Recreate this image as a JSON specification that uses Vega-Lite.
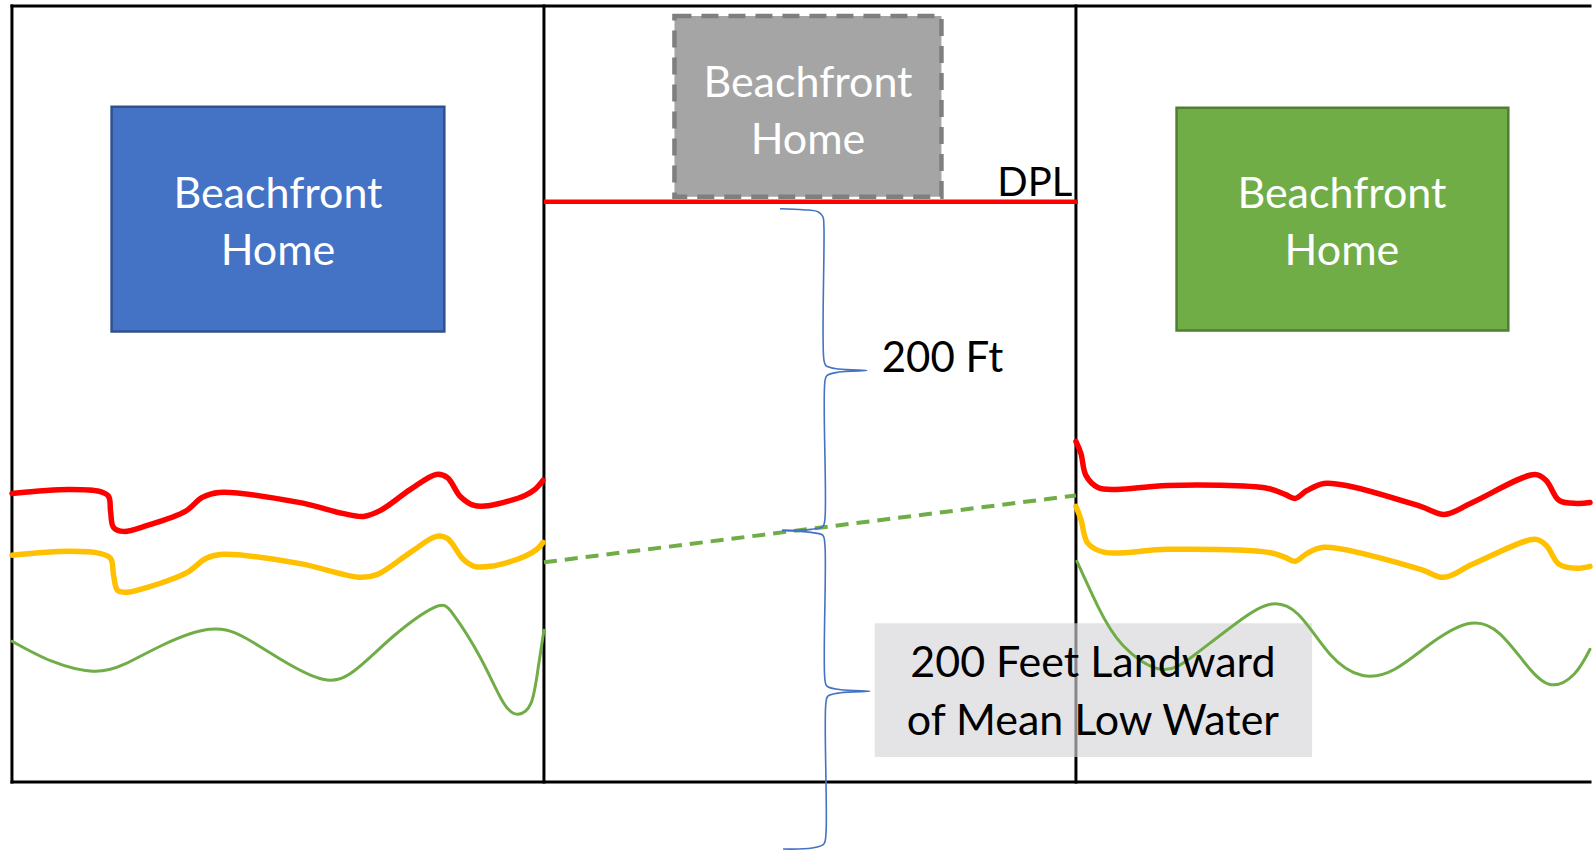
{
  "$schema": "https://vega.github.io/schema/vega-lite/v6.json",
  "width": 1596,
  "height": 853,
  "autosize": {"type": "fit", "contains": "padding"},
  "padding": 0,
  "background": "white",
  "config": {"view": {"stroke": null}},
  "datasets": {
    "frame": [
      {"x": 12, "y": 6, "x2": 1596, "y2": 6},
      {"x": 12, "y": 783, "x2": 1596, "y2": 783},
      {"x": 12, "y": 6, "x2": 12, "y2": 783},
      {"x": 546, "y": 6, "x2": 546, "y2": 783},
      {"x": 1080, "y": 6, "x2": 1080, "y2": 783}
    ],
    "homes": [
      {"home": "Left home", "x": 112, "x2": 446, "y": 107, "y2": 332},
      {"home": "Right home", "x": 1181, "x2": 1514, "y": 108, "y2": 331}
    ],
    "removed": [
      {"home": "Removed home", "x": 677, "x2": 945, "y": 16, "y2": 197}
    ],
    "labelbox": [
      {"x": 878, "x2": 1317, "y": 624, "y2": 758}
    ],
    "dpl": [
      {"x": 546, "y": 202, "x2": 1082, "y2": 202}
    ],
    "mlw": [
      {"x": 546, "y": 563, "x2": 1080, "y2": 496}
    ],
    "shore": [
      {"line": "upper", "side": "left", "x": 12, "y": 494},
      {"line": "upper", "side": "left", "x": 69, "y": 490},
      {"line": "upper", "side": "left", "x": 100, "y": 492},
      {"line": "upper", "side": "left", "x": 109, "y": 497},
      {"line": "upper", "side": "left", "x": 111, "y": 512},
      {"line": "upper", "side": "left", "x": 114, "y": 528},
      {"line": "upper", "side": "left", "x": 124, "y": 532},
      {"line": "upper", "side": "left", "x": 148, "y": 526},
      {"line": "upper", "side": "left", "x": 186, "y": 512},
      {"line": "upper", "side": "left", "x": 203, "y": 498},
      {"line": "upper", "side": "left", "x": 220, "y": 493},
      {"line": "upper", "side": "left", "x": 300, "y": 503},
      {"line": "upper", "side": "left", "x": 344, "y": 514},
      {"line": "upper", "side": "left", "x": 365, "y": 517},
      {"line": "upper", "side": "left", "x": 382, "y": 511},
      {"line": "upper", "side": "left", "x": 412, "y": 490},
      {"line": "upper", "side": "left", "x": 438, "y": 475},
      {"line": "upper", "side": "left", "x": 449, "y": 478},
      {"line": "upper", "side": "left", "x": 462, "y": 497},
      {"line": "upper", "side": "left", "x": 476, "y": 506},
      {"line": "upper", "side": "left", "x": 492, "y": 506},
      {"line": "upper", "side": "left", "x": 527, "y": 496},
      {"line": "upper", "side": "left", "x": 537, "y": 490},
      {"line": "upper", "side": "left", "x": 545, "y": 481},
      {"line": "middle", "side": "left", "x": 12, "y": 556},
      {"line": "middle", "side": "left", "x": 69, "y": 552},
      {"line": "middle", "side": "left", "x": 100, "y": 554},
      {"line": "middle", "side": "left", "x": 111, "y": 559},
      {"line": "middle", "side": "left", "x": 114, "y": 576},
      {"line": "middle", "side": "left", "x": 118, "y": 591},
      {"line": "middle", "side": "left", "x": 127, "y": 593},
      {"line": "middle", "side": "left", "x": 148, "y": 588},
      {"line": "middle", "side": "left", "x": 188, "y": 573},
      {"line": "middle", "side": "left", "x": 207, "y": 559},
      {"line": "middle", "side": "left", "x": 224, "y": 555},
      {"line": "middle", "side": "left", "x": 300, "y": 564},
      {"line": "middle", "side": "left", "x": 362, "y": 578},
      {"line": "middle", "side": "left", "x": 379, "y": 575},
      {"line": "middle", "side": "left", "x": 412, "y": 553},
      {"line": "middle", "side": "left", "x": 438, "y": 537},
      {"line": "middle", "side": "left", "x": 449, "y": 539},
      {"line": "middle", "side": "left", "x": 465, "y": 560},
      {"line": "middle", "side": "left", "x": 476, "y": 567},
      {"line": "middle", "side": "left", "x": 492, "y": 567},
      {"line": "middle", "side": "left", "x": 527, "y": 557},
      {"line": "middle", "side": "left", "x": 540, "y": 549},
      {"line": "middle", "side": "left", "x": 545, "y": 543},
      {"line": "lower", "side": "left", "x": 12, "y": 642},
      {"line": "lower", "side": "left", "x": 52, "y": 662},
      {"line": "lower", "side": "left", "x": 93, "y": 672},
      {"line": "lower", "side": "left", "x": 125, "y": 665},
      {"line": "lower", "side": "left", "x": 165, "y": 645},
      {"line": "lower", "side": "left", "x": 210, "y": 630},
      {"line": "lower", "side": "left", "x": 245, "y": 638},
      {"line": "lower", "side": "left", "x": 285, "y": 662},
      {"line": "lower", "side": "left", "x": 324, "y": 680},
      {"line": "lower", "side": "left", "x": 355, "y": 672},
      {"line": "lower", "side": "left", "x": 396, "y": 636},
      {"line": "lower", "side": "left", "x": 436, "y": 608},
      {"line": "lower", "side": "left", "x": 455, "y": 615},
      {"line": "lower", "side": "left", "x": 482, "y": 658},
      {"line": "lower", "side": "left", "x": 505, "y": 703},
      {"line": "lower", "side": "left", "x": 520, "y": 715},
      {"line": "lower", "side": "left", "x": 533, "y": 704},
      {"line": "lower", "side": "left", "x": 540, "y": 670},
      {"line": "lower", "side": "left", "x": 546, "y": 631},
      {"line": "upper", "side": "right", "x": 1080, "y": 442},
      {"line": "upper", "side": "right", "x": 1085, "y": 454},
      {"line": "upper", "side": "right", "x": 1090, "y": 476},
      {"line": "upper", "side": "right", "x": 1102, "y": 488},
      {"line": "upper", "side": "right", "x": 1120, "y": 490},
      {"line": "upper", "side": "right", "x": 1172, "y": 486},
      {"line": "upper", "side": "right", "x": 1273, "y": 489},
      {"line": "upper", "side": "right", "x": 1290, "y": 495},
      {"line": "upper", "side": "right", "x": 1300, "y": 499},
      {"line": "upper", "side": "right", "x": 1312, "y": 491},
      {"line": "upper", "side": "right", "x": 1329, "y": 484},
      {"line": "upper", "side": "right", "x": 1356, "y": 487},
      {"line": "upper", "side": "right", "x": 1426, "y": 507},
      {"line": "upper", "side": "right", "x": 1450, "y": 515},
      {"line": "upper", "side": "right", "x": 1478, "y": 503},
      {"line": "upper", "side": "right", "x": 1541, "y": 475},
      {"line": "upper", "side": "right", "x": 1552, "y": 481},
      {"line": "upper", "side": "right", "x": 1565, "y": 501},
      {"line": "upper", "side": "right", "x": 1583, "y": 504},
      {"line": "upper", "side": "right", "x": 1596, "y": 503},
      {"line": "middle", "side": "right", "x": 1080, "y": 507},
      {"line": "middle", "side": "right", "x": 1085, "y": 520},
      {"line": "middle", "side": "right", "x": 1092, "y": 544},
      {"line": "middle", "side": "right", "x": 1109, "y": 553},
      {"line": "middle", "side": "right", "x": 1172, "y": 550},
      {"line": "middle", "side": "right", "x": 1273, "y": 553},
      {"line": "middle", "side": "right", "x": 1290, "y": 558},
      {"line": "middle", "side": "right", "x": 1300, "y": 562},
      {"line": "middle", "side": "right", "x": 1312, "y": 554},
      {"line": "middle", "side": "right", "x": 1329, "y": 548},
      {"line": "middle", "side": "right", "x": 1426, "y": 570},
      {"line": "middle", "side": "right", "x": 1449, "y": 578},
      {"line": "middle", "side": "right", "x": 1478, "y": 565},
      {"line": "middle", "side": "right", "x": 1541, "y": 540},
      {"line": "middle", "side": "right", "x": 1552, "y": 546},
      {"line": "middle", "side": "right", "x": 1565, "y": 565},
      {"line": "middle", "side": "right", "x": 1583, "y": 569},
      {"line": "middle", "side": "right", "x": 1596, "y": 567},
      {"line": "lower", "side": "right", "x": 1081, "y": 562},
      {"line": "lower", "side": "right", "x": 1102, "y": 607},
      {"line": "lower", "side": "right", "x": 1127, "y": 646},
      {"line": "lower", "side": "right", "x": 1165, "y": 670},
      {"line": "lower", "side": "right", "x": 1200, "y": 655},
      {"line": "lower", "side": "right", "x": 1245, "y": 621},
      {"line": "lower", "side": "right", "x": 1275, "y": 605},
      {"line": "lower", "side": "right", "x": 1303, "y": 615},
      {"line": "lower", "side": "right", "x": 1335, "y": 655},
      {"line": "lower", "side": "right", "x": 1367, "y": 676},
      {"line": "lower", "side": "right", "x": 1400, "y": 670},
      {"line": "lower", "side": "right", "x": 1438, "y": 643},
      {"line": "lower", "side": "right", "x": 1476, "y": 624},
      {"line": "lower", "side": "right", "x": 1505, "y": 634},
      {"line": "lower", "side": "right", "x": 1530, "y": 663},
      {"line": "lower", "side": "right", "x": 1555, "y": 685},
      {"line": "lower", "side": "right", "x": 1580, "y": 675},
      {"line": "lower", "side": "right", "x": 1596, "y": 650}
    ],
    "braces": [
      {"brace": "200 Ft", "i": 1, "x": 783, "y": 209},
      {"brace": "200 Ft", "i": 2, "x": 806, "y": 210},
      {"brace": "200 Ft", "i": 3, "x": 821, "y": 212},
      {"brace": "200 Ft", "i": 4, "x": 826, "y": 217},
      {"brace": "200 Ft", "i": 5, "x": 827, "y": 226},
      {"brace": "200 Ft", "i": 6, "x": 827, "y": 360},
      {"brace": "200 Ft", "i": 7, "x": 829, "y": 366},
      {"brace": "200 Ft", "i": 8, "x": 842, "y": 369.5},
      {"brace": "200 Ft", "i": 9, "x": 870, "y": 371},
      {"brace": "200 Ft", "i": 10, "x": 842, "y": 372.5},
      {"brace": "200 Ft", "i": 11, "x": 830, "y": 376},
      {"brace": "200 Ft", "i": 12, "x": 828, "y": 382},
      {"brace": "200 Ft", "i": 13, "x": 828, "y": 520},
      {"brace": "200 Ft", "i": 14, "x": 826, "y": 527},
      {"brace": "200 Ft", "i": 15, "x": 814, "y": 530},
      {"brace": "200 Ft", "i": 16, "x": 785, "y": 531},
      {"brace": "200 Feet", "i": 1, "x": 785, "y": 531},
      {"brace": "200 Feet", "i": 2, "x": 814, "y": 533},
      {"brace": "200 Feet", "i": 3, "x": 826, "y": 536},
      {"brace": "200 Feet", "i": 4, "x": 828, "y": 545},
      {"brace": "200 Feet", "i": 5, "x": 828, "y": 680},
      {"brace": "200 Feet", "i": 6, "x": 830, "y": 687},
      {"brace": "200 Feet", "i": 7, "x": 844, "y": 690.5},
      {"brace": "200 Feet", "i": 8, "x": 873, "y": 692},
      {"brace": "200 Feet", "i": 9, "x": 844, "y": 693.5},
      {"brace": "200 Feet", "i": 10, "x": 831, "y": 697},
      {"brace": "200 Feet", "i": 11, "x": 829, "y": 704},
      {"brace": "200 Feet", "i": 12, "x": 829, "y": 836},
      {"brace": "200 Feet", "i": 13, "x": 827, "y": 845},
      {"brace": "200 Feet", "i": 14, "x": 815, "y": 849},
      {"brace": "200 Feet", "i": 15, "x": 786, "y": 850}
    ],
    "whiteText": [
      {"text": "Beachfront\nHome", "x": 279, "y": 208},
      {"text": "Beachfront\nHome", "x": 811, "y": 97},
      {"text": "Beachfront\nHome", "x": 1347, "y": 208}
    ],
    "boxText": [
      {"text": "200 Feet Landward\nof Mean Low Water", "x": 1097, "y": 678}
    ],
    "ftText": [
      {"text": "200 Ft", "x": 885, "y": 372}
    ],
    "dplText": [
      {"text": "DPL", "x": 1001, "y": 196}
    ]
  },
  "encoding": {
    "x": {"field": "x", "type": "quantitative", "scale": {"domain": [0, 1596], "nice": false, "zero": false}, "axis": null},
    "y": {"field": "y", "type": "quantitative", "scale": {"domain": [0, 853], "nice": false, "zero": false, "reverse": true}, "axis": null}
  },
  "layer": [
    {
      "data": {"name": "frame"},
      "mark": {"type": "rule", "color": "#000000", "strokeWidth": 3, "strokeCap": "square"},
      "encoding": {"x2": {"field": "x2"}, "y2": {"field": "y2"}}
    },
    {
      "data": {"name": "labelbox"},
      "mark": {"type": "rect", "fill": "#D4D5D9", "opacity": 0.64},
      "encoding": {"x2": {"field": "x2"}, "y2": {"field": "y2"}}
    },
    {
      "data": {"name": "homes"},
      "mark": {"type": "rect", "strokeWidth": 2.5},
      "encoding": {
        "x2": {"field": "x2"},
        "y2": {"field": "y2"},
        "fill": {"field": "home", "type": "nominal", "scale": {"domain": ["Left home", "Right home"], "range": ["#4472C4", "#70AD47"]}, "legend": null},
        "stroke": {"field": "home", "type": "nominal", "scale": {"domain": ["Left home", "Right home"], "range": ["#2F528F", "#507E32"]}, "legend": null}
      }
    },
    {
      "data": {"name": "removed"},
      "mark": {"type": "rect", "fill": "#A5A5A5", "stroke": "#7F7F7F", "strokeWidth": 4.5, "strokeDash": [17, 10]},
      "encoding": {"x2": {"field": "x2"}, "y2": {"field": "y2"}}
    },
    {
      "data": {"name": "dpl"},
      "mark": {"type": "rule", "color": "#FF0000", "strokeWidth": 4.5},
      "encoding": {"x2": {"field": "x2"}, "y2": {"field": "y2"}}
    },
    {
      "data": {"name": "mlw"},
      "mark": {"type": "rule", "color": "#70AD47", "strokeWidth": 4, "strokeDash": [13, 8]},
      "encoding": {"x2": {"field": "x2"}, "y2": {"field": "y2"}}
    },
    {
      "data": {"name": "shore"},
      "transform": [{"filter": {"field": "line", "oneOf": ["upper", "middle"]}}],
      "mark": {"type": "line", "strokeWidth": 5.5, "interpolate": "catmull-rom", "strokeCap": "round", "strokeJoin": "round"},
      "encoding": {
        "color": {"field": "line", "type": "nominal", "scale": {"domain": ["upper", "middle", "lower"], "range": ["#FF0000", "#FFC000", "#70AD47"]}, "legend": null},
        "detail": {"field": "side", "type": "nominal"}
      }
    },
    {
      "data": {"name": "shore"},
      "transform": [{"filter": {"field": "line", "equal": "lower"}}],
      "mark": {"type": "line", "strokeWidth": 3, "interpolate": "natural", "strokeCap": "round"},
      "encoding": {
        "color": {"field": "line", "type": "nominal", "scale": {"domain": ["upper", "middle", "lower"], "range": ["#FF0000", "#FFC000", "#70AD47"]}, "legend": null},
        "detail": {"field": "side", "type": "nominal"}
      }
    },
    {
      "data": {"name": "braces"},
      "mark": {"type": "line", "color": "#4472C4", "strokeWidth": 1.6, "interpolate": "catmull-rom"},
      "encoding": {
        "detail": {"field": "brace", "type": "nominal"},
        "order": {"field": "i", "type": "quantitative"}
      }
    },
    {
      "data": {"name": "whiteText"},
      "mark": {"type": "text", "color": "#FFFFFF", "font": "Lato", "fontSize": 43, "align": "center", "baseline": "alphabetic", "lineBreak": "\n", "lineHeight": 57},
      "encoding": {"text": {"field": "text"}}
    },
    {
      "data": {"name": "boxText"},
      "mark": {"type": "text", "color": "#000000", "font": "Lato", "fontSize": 43, "align": "center", "baseline": "alphabetic", "lineBreak": "\n", "lineHeight": 58},
      "encoding": {"text": {"field": "text"}}
    },
    {
      "data": {"name": "ftText"},
      "mark": {"type": "text", "color": "#000000", "font": "Lato", "fontSize": 42, "align": "left", "baseline": "alphabetic"},
      "encoding": {"text": {"field": "text"}}
    },
    {
      "data": {"name": "dplText"},
      "mark": {"type": "text", "color": "#000000", "font": "Lato", "fontSize": 40, "align": "left", "baseline": "alphabetic"},
      "encoding": {"text": {"field": "text"}}
    }
  ]
}
